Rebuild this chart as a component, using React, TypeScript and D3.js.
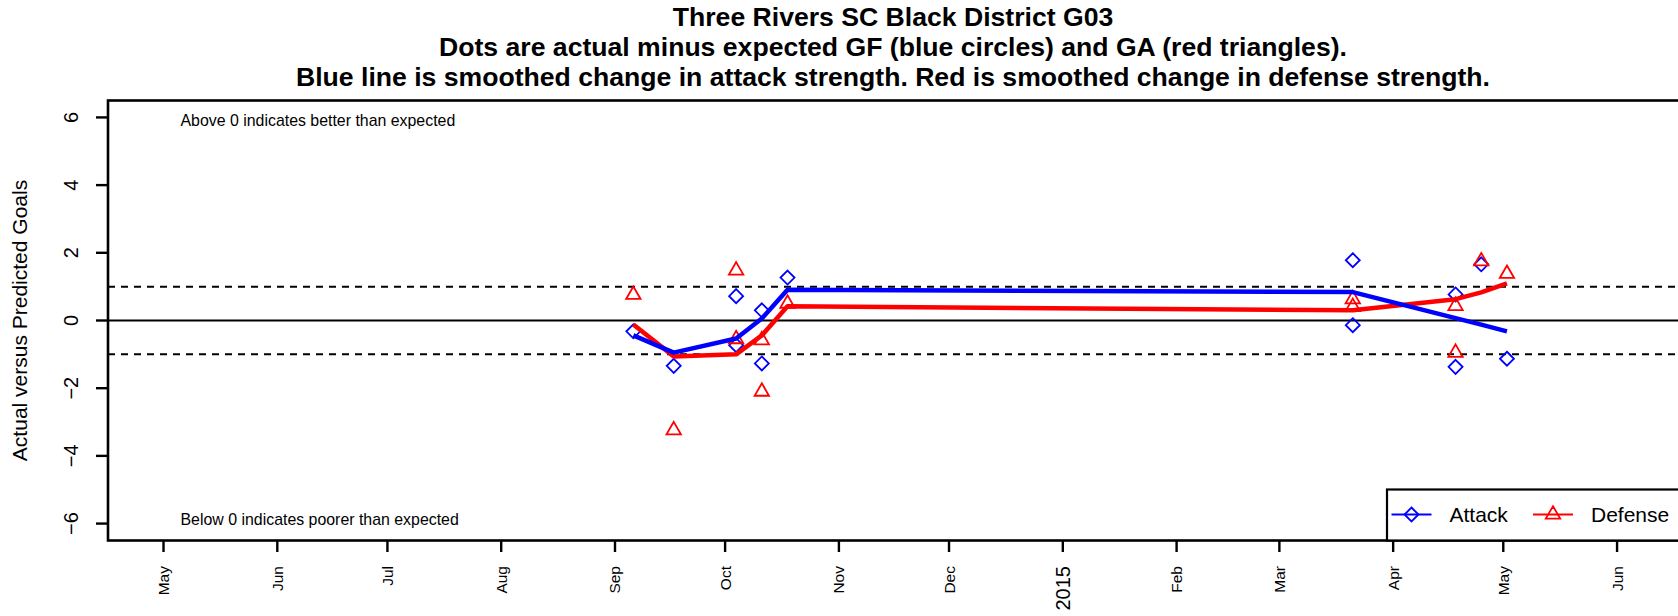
import { useEffect, useRef } from "react";
import * as d3 from "d3";

// one entry per game
const gameDates = [
  "2014-09-06", "2014-09-17", "2014-10-04", "2014-10-04", "2014-10-11", "2014-10-11", "2014-10-18",
  "2015-03-21", "2015-03-21", "2015-04-18", "2015-04-18", "2015-04-25", "2015-05-02",
];
const goalsForDiff = [-0.32, -1.34, 0.72, -0.73, 0.3, -1.27, 1.27, 1.78, -0.14, 0.77, -1.37, 1.66, -1.13];
const goalsAgainstDiff = [0.76, -3.24, 1.48, -0.55, -0.58, -2.1, 0.5, 0.63, 0.4, 0.43, -0.95, 1.75, 1.38];

// smoothed strength changes, one per match day
const smoothDates = [
  "2014-09-06", "2014-09-17", "2014-10-04", "2014-10-11", "2014-10-18",
  "2015-03-21", "2015-04-18", "2015-04-25", "2015-05-02",
];
const attackSmooth = [-0.44, -0.95, -0.53, 0.06, 0.91, 0.84, 0.07, -0.12, -0.32];
const defenseSmooth = [-0.12, -1.06, -1.0, -0.44, 0.42, 0.3, 0.63, 0.83, 1.1];

const monthTicks = [
  "2014-05-01", "2014-06-01", "2014-07-01", "2014-08-01", "2014-09-01", "2014-10-01", "2014-11-01",
  "2014-12-01", "2015-01-01", "2015-02-01", "2015-03-01", "2015-04-01", "2015-05-01", "2015-06-01",
];
const monthLabels = ["May", "Jun", "Jul", "Aug", "Sep", "Oct", "Nov", "Dec", "2015", "Feb", "Mar", "Apr", "May", "Jun"];
const yTicks = [-6, -4, -2, 0, 2, 4, 6];
const refLines = [-1, 1];

const titleLines = [
  "Three Rivers SC Black District G03",
  "Dots are actual minus expected GF (blue circles) and GA (red triangles).",
  "Blue line is smoothed change in attack strength. Red is smoothed change in defense strength.",
];

const FONT = "'Liberation Sans', Arial, Helvetica, sans-serif";

export default function App() {
  const ref = useRef<SVGSVGElement>(null);

  useEffect(() => {
    const width = 1678;
    const height = 616;
    const left = 108;
    const right = 1678;
    const top = 100.5;
    const bottom = 540.5;

    const svg = d3.select(ref.current);
    svg.selectAll("*").remove();
    svg.attr("width", width).attr("height", height).style("font-family", FONT);

    const parse = (s: string) => new Date(s + "T00:00:00Z");

    const x = d3.scaleUtc(
      [new Date(Date.UTC(2014, 3, 15, 21)), new Date(Date.UTC(2015, 5, 17, 14, 24))],
      [left, right]
    );
    const y = d3.scaleLinear([-6.5, 6.5], [bottom, top]);

    svg.append("rect").attr("width", width).attr("height", height).attr("fill", "white");

    // title
    svg.append("g")
      .selectAll("text")
      .data(titleLines)
      .join("text")
      .attr("x", (left + right) / 2)
      .attr("y", (_, i) => 26 + i * 29.8)
      .attr("text-anchor", "middle")
      .attr("font-weight", "bold")
      .attr("font-size", 26.6)
      .text(d => d);

    const plot = svg.append("g");

    // reference lines
    plot.append("line")
      .attr("x1", left).attr("x2", right)
      .attr("y1", y(0)).attr("y2", y(0))
      .attr("stroke", "black").attr("stroke-width", 2);

    plot.selectAll(".ref")
      .data(refLines)
      .join("line")
      .attr("x1", left).attr("x2", right)
      .attr("y1", d => y(d)).attr("y2", d => y(d))
      .attr("stroke", "black").attr("stroke-width", 2)
      .attr("stroke-dasharray", "7,6");

    const diamond = (cx: number, cy: number, r = 7) =>
      `M${cx},${cy - r}L${cx + r},${cy}L${cx},${cy + r}L${cx - r},${cy}Z`;
    const triangle = (cx: number, cy: number) =>
      `M${cx},${cy - 8.3}L${cx + 7.2},${cy + 4.15}L${cx - 7.2},${cy + 4.15}Z`;

    const games = gameDates.map((d, i) => ({ date: parse(d), gf: goalsForDiff[i], ga: goalsAgainstDiff[i] }));

    plot.append("g")
      .selectAll("path")
      .data(games)
      .join("path")
      .attr("d", d => diamond(x(d.date), y(d.gf)))
      .attr("fill", "none").attr("stroke", "#0000ff").attr("stroke-width", 1.8);

    plot.append("g")
      .selectAll("path")
      .data(games)
      .join("path")
      .attr("d", d => triangle(x(d.date), y(d.ga)))
      .attr("fill", "none").attr("stroke", "#ff0000").attr("stroke-width", 1.8);

    const smooth = smoothDates.map((d, i) => ({ date: parse(d), a: attackSmooth[i], dfs: defenseSmooth[i] }));

    plot.append("path")
      .attr("d", d3.line<any>().x(d => x(d.date)).y(d => y(d.dfs))(smooth))
      .attr("fill", "none").attr("stroke", "#ff0000").attr("stroke-width", 4.5)
      .attr("stroke-linejoin", "round");

    plot.append("path")
      .attr("d", d3.line<any>().x(d => x(d.date)).y(d => y(d.a))(smooth))
      .attr("fill", "none").attr("stroke", "#0000ff").attr("stroke-width", 4.5)
      .attr("stroke-linejoin", "round");

    // annotations
    svg.append("text")
      .attr("x", 180.5).attr("y", 126)
      .attr("font-size", 15.9)
      .text("Above 0 indicates better than expected");
    svg.append("text")
      .attr("x", 180.5).attr("y", 524.5)
      .attr("font-size", 15.9)
      .text("Below 0 indicates poorer than expected");

    // frame
    svg.append("rect")
      .attr("x", left).attr("y", top)
      .attr("width", right - left + 4).attr("height", bottom - top)
      .attr("fill", "none").attr("stroke", "black").attr("stroke-width", 2.6);

    // y axis
    const yAxis = svg.append("g");
    yAxis.selectAll("line")
      .data(yTicks)
      .join("line")
      .attr("x1", left - 12).attr("x2", left)
      .attr("y1", d => y(d)).attr("y2", d => y(d))
      .attr("stroke", "black").attr("stroke-width", 2.4);
    yAxis.selectAll("text")
      .data(yTicks)
      .join("text")
      .attr("transform", d => `translate(78,${y(d)}) rotate(-90)`)
      .attr("text-anchor", "middle")
      .attr("font-size", 20)
      .text(d => (d < 0 ? "\u2212" + Math.abs(d) : String(d)));

    svg.append("text")
      .attr("transform", `translate(27,${(top + bottom) / 2}) rotate(-90)`)
      .attr("text-anchor", "middle")
      .attr("font-size", 21)
      .text("Actual versus Predicted Goals");

    // x axis
    const xAxis = svg.append("g");
    const ticks = monthTicks.map((d, i) => ({ date: parse(d), label: monthLabels[i] }));
    xAxis.selectAll("line")
      .data(ticks)
      .join("line")
      .attr("x1", d => x(d.date)).attr("x2", d => x(d.date))
      .attr("y1", bottom).attr("y2", bottom + 11.5)
      .attr("stroke", "black").attr("stroke-width", 2.4);
    xAxis.selectAll("text")
      .data(ticks)
      .join("text")
      .attr("transform", d => `translate(${x(d.date) + (d.label === "2015" ? 7 : 5.5)},${bottom + 25.5}) rotate(-90)`)
      .attr("text-anchor", "end")
      .attr("font-size", d => (d.label === "2015" ? 20 : 15.5))
      .text(d => d.label);

    // legend
    const lgRight = right;
    const lgLeft = lgRight - 291;
    const lgTop = bottom - 51;
    const lgY = lgTop + 25;
    const legend = svg.append("g");
    legend.append("rect")
      .attr("x", lgLeft).attr("y", lgTop)
      .attr("width", lgRight - lgLeft + 4).attr("height", bottom - lgTop)
      .attr("fill", "white").attr("stroke", "black").attr("stroke-width", 2.2);

    const items = [
      { label: "Attack", color: "#0000ff", shape: "diamond", x0: lgLeft + 4.5 },
      { label: "Defense", color: "#ff0000", shape: "triangle", x0: lgLeft + 146 },
    ];
    items.forEach(it => {
      const cx = it.x0 + 20;
      legend.append("line")
        .attr("x1", it.x0).attr("x2", it.x0 + 40)
        .attr("y1", lgY).attr("y2", lgY)
        .attr("stroke", it.color).attr("stroke-width", 1.8);
      legend.append("path")
        .attr("d", it.shape === "diamond" ? diamond(cx, lgY) : triangle(cx, lgY))
        .attr("fill", "none").attr("stroke", it.color).attr("stroke-width", 1.8);
      legend.append("text")
        .attr("x", it.x0 + 58).attr("y", lgY + 7.5)
        .attr("font-size", 21)
        .text(it.label);
    });
  }, []);

  return <svg ref={ref} style={{ position: "absolute", left: 0, top: 0, display: "block" }}></svg>;
}
